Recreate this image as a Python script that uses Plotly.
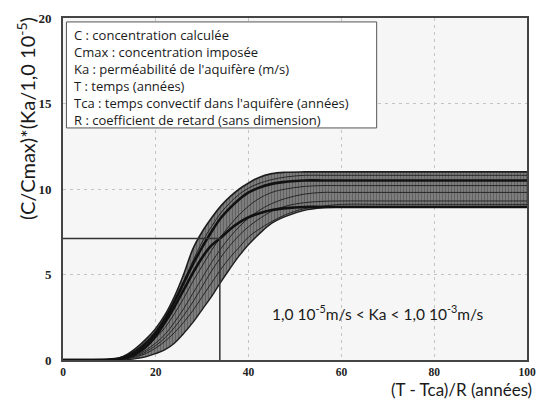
import plotly.graph_objects as go

# common abscissa (T - Tca)/R in years
X = [0, 5, 10, 12, 14, 16, 18, 20, 22, 24, 26, 28, 30, 32, 34, 36, 38, 40, 42, 45, 48, 52, 56, 60, 70, 80, 90, 100]

# envelope curves
upper = [0, 0, 0.02, 0.1, 0.35, 0.75, 1.25, 1.85, 2.65, 3.7, 5.0, 6.5, 7.5, 8.3, 9.0, 9.55, 10.0, 10.35, 10.65, 10.9, 10.98, 11.0, 11.0, 11.0, 11.0, 11.0, 11.0, 11.0]
lower = [0, 0, 0, 0, 0.02, 0.1, 0.2, 0.38, 0.6, 0.98, 1.55, 2.2, 2.95, 3.7, 4.55, 5.35, 6.1, 6.75, 7.3, 8.0, 8.4, 8.75, 8.9, 8.95, 8.95, 8.95, 8.95, 8.95]

# thick curves
median_low = [0, 0, 0.01, 0.05, 0.15, 0.4, 0.8, 1.4, 2.2, 3.1, 4.1, 5.1, 6.0, 6.7, 7.15, 7.65, 8.05, 8.35, 8.55, 8.77, 8.88, 8.95, 8.95, 8.95, 8.95, 8.95, 8.95, 8.95]
median_high = [0, 0, 0.02, 0.08, 0.25, 0.55, 1.0, 1.6, 2.4, 3.4, 4.5, 5.6, 6.6, 7.5, 8.3, 8.9, 9.4, 9.8, 10.05, 10.3, 10.42, 10.5, 10.5, 10.5, 10.5, 10.5, 10.5, 10.5]

# thin interior curves
thin_curves = [
    [0, 0, 0, 0.02, 0.1, 0.25, 0.5, 0.85, 1.3, 1.9, 2.6, 3.4, 4.3, 5.2, 6.0, 6.7, 7.3, 7.8, 8.2, 8.7, 9.0, 9.2, 9.28, 9.3, 9.3, 9.3, 9.3, 9.3],
    [0, 0, 0.02, 0.1, 0.3, 0.65, 1.1, 1.7, 2.5, 3.5, 4.6, 5.8, 6.9, 7.8, 8.6, 9.2, 9.7, 10.05, 10.3, 10.55, 10.7, 10.8, 10.8, 10.8, 10.8, 10.8, 10.8, 10.8],
    [0, 0, 0.01, 0.05, 0.2, 0.45, 0.8, 1.3, 1.9, 2.7, 3.6, 4.6, 5.5, 6.4, 7.2, 7.9, 8.5, 9.0, 9.4, 9.8, 10.0, 10.15, 10.2, 10.2, 10.2, 10.2, 10.2, 10.2],
    [0, 0, 0, 0.03, 0.12, 0.3, 0.6, 1.0, 1.5, 2.2, 3.0, 3.9, 4.8, 5.7, 6.5, 7.2, 7.8, 8.3, 8.7, 9.15, 9.45, 9.7, 9.8, 9.8, 9.8, 9.8, 9.8, 9.8],
    [0, 0, 0, 0.02, 0.08, 0.2, 0.4, 0.7, 1.1, 1.6, 2.2, 2.9, 3.7, 4.5, 5.3, 6.0, 6.6, 7.2, 7.6, 8.1, 8.5, 8.85, 9.0, 9.1, 9.1, 9.1, 9.1, 9.1],
]

# reading lines
crit_x = 33.8
crit_y = 7.1

x_ticks = [0, 20, 40, 60, 80, 100]
y_ticks = [0, 5, 10, 15, 20]

legend_lines = [
    "C : concentration calculée",
    "Cmax : concentration imposée",
    "Ka : perméabilité de l'aquifère (m/s)",
    "T : temps (années)",
    "Tca : temps convectif dans l'aquifère (années)",
    "R : coefficient de retard (sans dimension)",
]

fig = go.Figure()

fig.add_trace(go.Scatter(x=X, y=lower, mode="lines", line=dict(color="#1e1e1e", width=1.4, shape="spline"),
                         showlegend=False, hoverinfo="skip"))
fig.add_trace(go.Scatter(x=X, y=upper, mode="lines", line=dict(color="#1e1e1e", width=1.6, shape="spline"),
                         fill="tonexty", fillcolor="#707070",
                         fillpattern=dict(shape="|", size=3, solidity=0.5, fgcolor="#3e3e3e", bgcolor="#868686"),
                         showlegend=False, hoverinfo="skip"))

for c in thin_curves:
    fig.add_trace(go.Scatter(x=X, y=c, mode="lines", line=dict(color="#262626", width=1.0, shape="spline"),
                             showlegend=False, hoverinfo="skip"))

for c in (median_low, median_high):
    fig.add_trace(go.Scatter(x=X, y=c, mode="lines", line=dict(color="#111", width=2.6, shape="spline"),
                             showlegend=False, hoverinfo="skip"))

fig.add_trace(go.Scatter(x=[0, crit_x, crit_x], y=[crit_y, crit_y, 0], mode="lines",
                         line=dict(color="#333", width=1.5), showlegend=False, hoverinfo="skip"))

# legend box
fig.add_shape(type="rect", xref="x", yref="y", x0=0.74, x1=67.6, y0=13.57, y1=19.77,
              fillcolor="white", line=dict(color="#555", width=1), layer="above")
fig.add_annotation(x=2.0, y=19.65, xref="x", yref="y", xanchor="left", yanchor="top",
                   text="<br>".join(legend_lines), align="left", showarrow=False,
                   font=dict(family="Open Sans", size=13, color="#1a1a1a"))

fig.add_annotation(x=67.7, y=2.8, xref="x", yref="y",
                   text="1,0 10<sup>-5</sup>m/s &lt; Ka &lt; 1,0 10<sup>-3</sup>m/s",
                   showarrow=False, font=dict(family="Lato", size=15.5, color="#1a1a1a"))

fig.add_annotation(x=-0.080, y=1.01, xref="paper", yref="paper", xanchor="center", yanchor="top",
                   text="(C/Cmax)*(Ka/1,0 10<sup>-5</sup>)", textangle=-90, showarrow=False,
                   font=dict(family="Lato", size=20, color="#1a1a1a"))

fig.add_annotation(x=1.015, y=-0.1225, xref="paper", yref="paper", xanchor="right", yanchor="bottom",
                   text="(T - Tca)/R (années)", showarrow=False,
                   font=dict(family="Lato", size=17, color="#1a1a1a"))

fig.update_layout(
    width=546, height=402,
    margin=dict(l=63, r=10, t=18, b=42),
    paper_bgcolor="white", plot_bgcolor="#f6f6f6",
    xaxis=dict(range=[0, 100], tickvals=x_ticks, showgrid=True, gridcolor="#c4c4c4", griddash="3px,4px",
               gridwidth=1, zeroline=False, showline=True, mirror=True, linecolor="#444", linewidth=2,
               ticks="", tickfont=dict(family="Liberation Serif", size=11.5, color="#222", weight="bold"),
               ticklabelstandoff=0),
    yaxis=dict(range=[0, 20], tickvals=y_ticks, showgrid=True, gridcolor="#c4c4c4", griddash="3px,4px",
               gridwidth=1, zeroline=False, showline=True, mirror=True, linecolor="#444", linewidth=2,
               ticks="", tickfont=dict(family="Liberation Serif", size=13, color="#222", weight="bold"),
               ticklabelstandoff=7),
)

fig.write_html("out.html", config={"displayModeBar": False},
               post_script="document.body.style.margin='0';document.body.style.overflow='hidden';")
